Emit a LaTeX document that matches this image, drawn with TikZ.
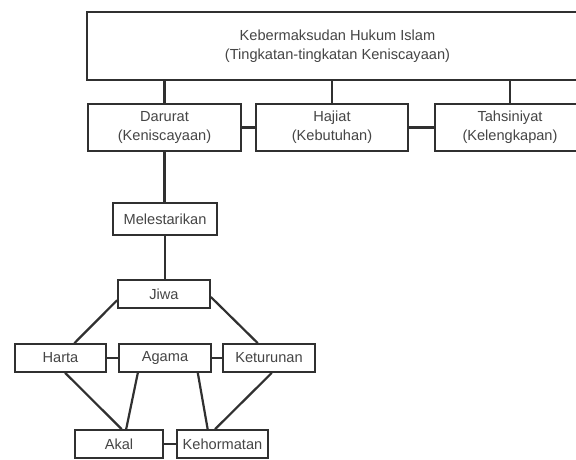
\documentclass[tikz,border=0pt]{standalone}
\usepackage{fontspec}
\setmainfont{Liberation Sans}
\usetikzlibrary{calc}
\definecolor{lin}{HTML}{303030}
\definecolor{txt}{HTML}{454545}
\tikzset{
  box/.style={draw=lin, line width=1.7pt, fill=white, text=txt, inner sep=0pt,
    align=center, font=\fontsize{14.6}{19}\selectfont},
  conn/.style={draw=lin, line width=2.2pt}
}
\begin{document}
\begin{tikzpicture}[x=1pt,y=-1pt]
\useasboundingbox (0,0) rectangle (576,459);
\clip (0,0) rectangle (576,459);
\fill[white] (0,0) rectangle (576,459);
% nodes
\node[box, minimum width=501pt, minimum height=68pt] (top) at (337.5,46) {Kebermaksudan Hukum Islam\\(Tingkatan-tingkatan Keniscayaan)};
\node[box, minimum width=153pt, minimum height=47pt] (dar) at (164.5,127.5) {Darurat\\(Keniscayaan)};
\node[box, minimum width=152pt, minimum height=47pt] (haj) at (332,127.5) {Hajiat\\(Kebutuhan)};
\node[box, minimum width=150pt, minimum height=47pt] (tah) at (510,127.5) {Tahsiniyat\\(Kelengkapan)};
\node[box, minimum width=104pt, minimum height=32pt] (mel) at (165,219) {Melestarikan};
\node[box, minimum width=92pt, minimum height=28pt] (jiwa) at (164,294) {Jiwa};
\node[box, minimum width=91pt, minimum height=28pt] (harta) at (60.5,358) {Harta};
\node[box, minimum width=92pt, minimum height=28pt] (agama) at (165,358) {Agama};
\node[box, minimum width=92pt, minimum height=28pt] (ket) at (269,358) {Keturunan};
\node[box, minimum width=88pt, minimum height=28pt] (akal) at (119,444) {Akal};
\node[box, minimum width=91pt, minimum height=28pt] (keh) at (222.5,444) {Kehormatan};
% connectors
\draw[conn] (top.south -| dar.north) -- (dar.north);
\draw[conn] (top.south -| haj.north) -- (haj.north);
\draw[conn] (top.south -| tah.north) -- (tah.north);
\draw[conn] (dar.east) -- (haj.west);
\draw[conn] (haj.east) -- (tah.west);
\draw[conn] (dar.south) -- (dar.south |- mel.north);
\draw[conn] (mel.south) -- (mel.south |- jiwa.north);
\draw[conn] ($(jiwa.south west)!0.29!(jiwa.north west)$) -- ($(harta.north west)!0.65!(harta.north east)$);
\draw[conn] ($(jiwa.south east)!0.4!(jiwa.north east)$) -- ($(ket.north west)!0.38!(ket.north east)$);
\draw[conn] (harta.east) -- (agama.west);
\draw[conn] (agama.east) -- (ket.west);
\draw[conn] ($(harta.south west)!0.55!(harta.south east)$) -- ($(akal.north west)!0.53!(akal.north east)$);
\draw[conn] ($(agama.south west)!0.21!(agama.south east)$) -- ($(akal.north west)!0.58!(akal.north east)$);
\draw[conn] ($(agama.south west)!0.85!(agama.south east)$) -- ($(keh.north west)!0.34!(keh.north east)$);
\draw[conn] ($(ket.south west)!0.53!(ket.south east)$) -- ($(keh.north west)!0.42!(keh.north east)$);
\draw[conn] (akal.east) -- (keh.west);
\end{tikzpicture}
\end{document}
